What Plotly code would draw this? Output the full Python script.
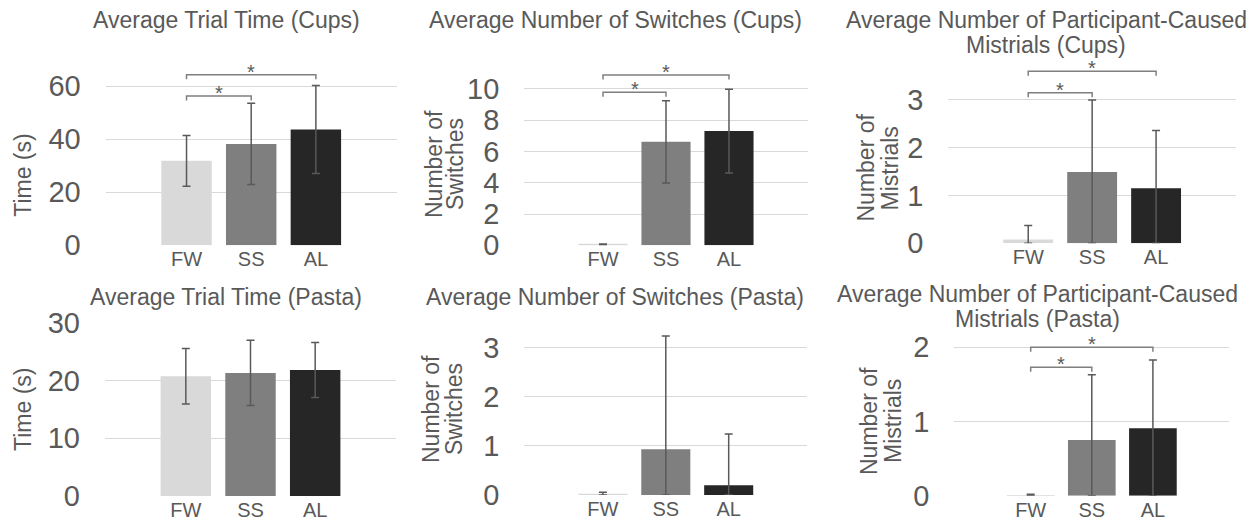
import plotly.graph_objects as go

W, H = 1258, 522
OFF = 8  # browser body margin
FONT = "Liberation Sans, Arial, sans-serif"
TXT = "#595959"

categories = ["FW", "SS", "AL"]
bar_colors = ["#d9d9d9", "#7f7f7f", "#262626"]

# values
cups_time = [31.8, 38.2, 43.6]
cups_time_sd = [9.6, 15.3, 16.6]
cups_switch = [0.03, 6.62, 7.31]
cups_switch_sd = [0.05, 2.63, 2.68]
cups_mistrial = [0.08, 1.49, 1.15]
cups_mistrial_sd = [0.29, 1.51, 1.21]
pasta_time = [20.7, 21.3, 21.8]
pasta_time_sd = [4.8, 5.65, 4.75]
pasta_switch = [0.02, 0.93, 0.20]
pasta_switch_sd = [0.035, 2.30, 1.04]
pasta_mistrial = [0.01, 0.75, 0.91]
pasta_mistrial_sd = [0.01, 0.88, 0.92]

# significance brackets: (from category, to category, level)
cups_time_sig = [(0, 1, 56.2), (0, 2, 64.2)]
cups_switch_sig = [(0, 1, 9.79), (0, 2, 10.9)]
cups_mistrial_sig = [(0, 1, 3.15), (0, 2, 3.6)]
pasta_mistrial_sig = [(0, 1, 1.73), (0, 2, 2.0)]

panels = [
    dict(vals=cups_time, sd=cups_time_sd, ticks=[0, 20, 40, 60], yr=[0, 70],
         box=(105.7, 396.7, 245.3), sig=cups_time_sig,
         title=[("Average Trial Time (Cups)", 226.7, 20)],
         ytitle=[("Time (s)", 23, 175.8)]),
    dict(vals=cups_switch, sd=cups_switch_sd, ticks=[0, 2, 4, 6, 8, 10], yr=[0, 11.8],
         box=(524.3, 807.7, 245.3), sig=cups_switch_sig,
         title=[("Average Number of Switches (Cups)", 615, 20)],
         ytitle=[("Number of", 434, 164), ("Switches", 455, 164)]),
    dict(vals=cups_mistrial, sd=cups_mistrial_sd, ticks=[0, 1, 2, 3], yr=[0, 3.85],
         box=(948.3, 1236, 243.3), sig=cups_mistrial_sig,
         title=[("Average Number of Participant-Caused", 1046, 20), ("Mistrials (Cups)", 1046, 45)],
         ytitle=[("Number of", 865, 167.5), ("Mistrials", 889, 168.5)]),
    dict(vals=pasta_time, sd=pasta_time_sd, ticks=[0, 10, 20, 30], yr=[0, 30],
         box=(105, 396, 496), sig=[],
         title=[("Average Trial Time (Pasta)", 225.5, 296.7)],
         ytitle=[("Time (s)", 23, 410)]),
    dict(vals=pasta_switch, sd=pasta_switch_sd, ticks=[0, 1, 2, 3], yr=[0, 3.3],
         box=(524.3, 807.3, 495), sig=[],
         title=[("Average Number of Switches (Pasta)", 615, 296.7)],
         ytitle=[("Number of", 431, 409), ("Switches", 454, 409)]),
    dict(vals=pasta_mistrial, sd=pasta_mistrial_sd, ticks=[0, 1, 2], yr=[0, 2.1],
         box=(954.3, 1229.3, 495.7), sig=pasta_mistrial_sig,
         title=[("Average Number of Participant-Caused", 1037, 294), ("Mistrials (Pasta)", 1037, 319)],
         ytitle=[("Number of", 869, 421), ("Mistrials", 893, 421)]),
]

px_per_unit = [2.655, 15.63, 47.8, 5.78, 49.2, 74.2]


def px_x(x):
    return (x - OFF) / W


def px_y(y):
    return 1 - (y - OFF) / H


fig = go.Figure()
annotations = []
shapes = []
layout_axes = {}

for i, p in enumerate(panels):
    n = i + 1
    xa = "x" if n == 1 else f"x{n}"
    ya = "y" if n == 1 else f"y{n}"
    x0, x1, ybot = p["box"]
    span = p["yr"][1] - p["yr"][0]
    ytop = ybot - span * px_per_unit[i]
    minus = [min(s, v) for s, v in zip(p["sd"], p["vals"])]
    fig.add_trace(go.Bar(
        x=categories, y=p["vals"], marker=dict(color=bar_colors, line=dict(width=0)),
        error_y=dict(type="data", array=p["sd"], arrayminus=minus, symmetric=False,
                     color="#595959", thickness=1.5, width=4),
        xaxis=xa, yaxis=ya, showlegend=False, hoverinfo="x+y"))
    layout_axes["xaxis" if n == 1 else f"xaxis{n}"] = dict(
        domain=[px_x(x0), px_x(x1)], anchor=ya, range=[-1.25, 3.25], automargin=False,
        showgrid=False, showline=False, zeroline=False, ticks="",
        tickfont=dict(size=20, color=TXT, family=FONT), fixedrange=True)
    layout_axes["yaxis" if n == 1 else f"yaxis{n}"] = dict(
        domain=[px_y(ybot), px_y(ytop)], anchor=xa, range=p["yr"], automargin=False,
        tickvals=p["ticks"], showgrid=True, gridcolor="#d9d9d9", gridwidth=1,
        zeroline=False, showline=False, ticks="", ticklabelstandoff=24,
        tickfont=dict(size=29, color=TXT, family=FONT), fixedrange=True)
    for txt, tx, ty in p["title"]:
        annotations.append(dict(text=txt, x=px_x(tx), y=px_y(ty), xref="paper", yref="paper",
                                xanchor="center", yanchor="middle", showarrow=False,
                                font=dict(size=23, color=TXT, family=FONT)))
    for txt, tx, ty in p["ytitle"]:
        annotations.append(dict(text=txt, x=px_x(tx), y=px_y(ty), xref="paper", yref="paper",
                                xanchor="center", yanchor="middle", showarrow=False, textangle=-90,
                                font=dict(size=23, color=TXT, family=FONT)))
    drop = 4.5 / px_per_unit[i]
    for a, b, lvl in p["sig"]:
        shapes.append(dict(type="path", xref=xa, yref=ya,
                           path=f"M {a},{lvl - drop} L {a},{lvl} L {b},{lvl} L {b},{lvl - drop}",
                           line=dict(color="#7f7f7f", width=1.5)))
        annotations.append(dict(text="*", x=(a + b) / 2, y=lvl, xref=xa, yref=ya,
                                xanchor="center", yanchor="middle", yshift=3, showarrow=False,
                                font=dict(size=20, color=TXT, family=FONT)))

fig.update_layout(
    width=W, height=H, margin=dict(l=0, r=0, t=0, b=0, autoexpand=False),
    paper_bgcolor="white", plot_bgcolor="white",
    bargap=0.22, annotations=annotations, shapes=shapes,
    font=dict(family=FONT, color=TXT), **layout_axes)

fig.write_html("out.html")
